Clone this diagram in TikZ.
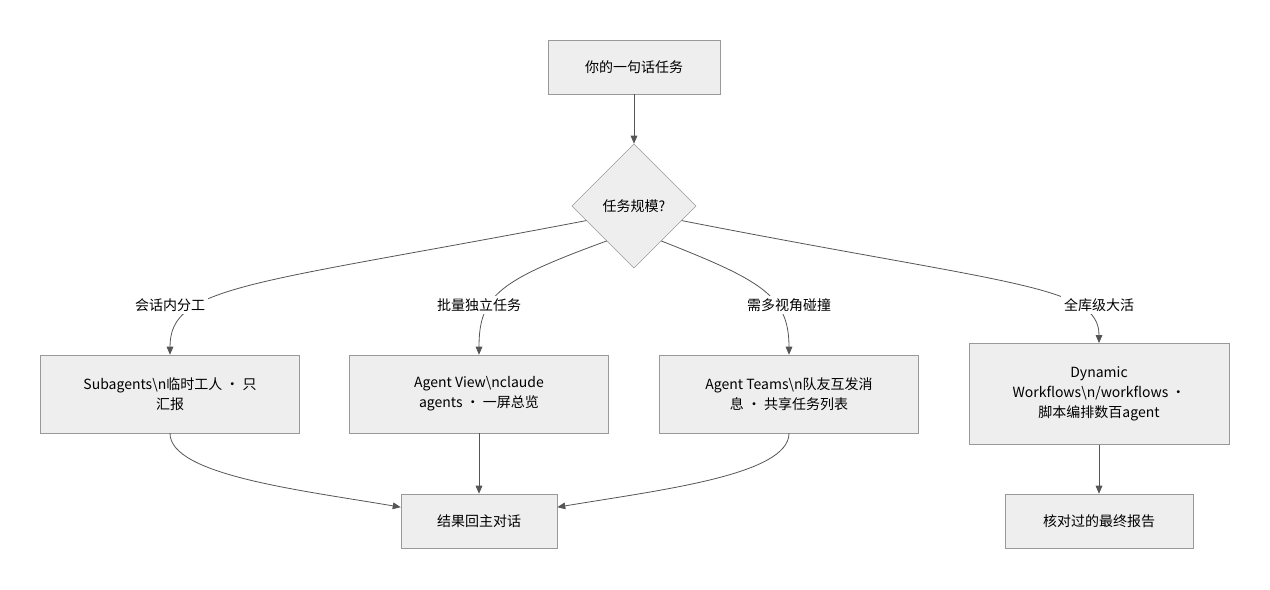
\documentclass[tikz,border=0pt]{standalone}
\usepackage{fontspec}
\setmainfont{Noto Sans CJK SC}
\usetikzlibrary{shapes.geometric, arrows.meta, positioning}
\definecolor{boxfill}{HTML}{EEEEEE}
\definecolor{boxline}{HTML}{999999}
\definecolor{edgecol}{HTML}{555555}

\begin{document}
\begin{tikzpicture}[
        x=0.75pt, y=-0.75pt,
        font=\fontsize{10.5}{15}\selectfont,
        box/.style={rectangle, draw=boxline, fill=boxfill, align=center, inner sep=0pt},
        dec/.style={diamond, draw=boxline, fill=boxfill, minimum width=93pt, minimum height=93pt, inner sep=0pt},
        lab/.style={fill=white, inner sep=2pt},
        arrow/.style={-{Triangle[length=6pt, width=5pt]}, edgecol, line width=0.6pt}
    ]
        \useasboundingbox (0,0) rectangle (1270,589);

        % Start and decision
        \node[box, minimum width=129pt, minimum height=40.5pt] (task) at (634,67) {你的一句话任务};
        \node[dec] (scale) at (634,206) {任务规模?};

        % Four branches
        \node[box, minimum width=194.5pt, minimum height=58.5pt] (sub) at (170,394) {Subagents\textbackslash n临时工人 · 只\\汇报};
        \node[box, minimum width=194.5pt, minimum height=58.5pt] (view) at (479,394) {Agent View\textbackslash nclaude\\agents · 一屏总览};
        \node[box, minimum width=194.5pt, minimum height=58.5pt] (teams) at (789,394) {Agent Teams\textbackslash n队友互发消\\息 · 共享任务列表};
        \node[box, minimum width=195pt, minimum height=76pt] (dyn) at (1099,394) {Dynamic\\Workflows\textbackslash n/workflows ·\\脚本编排数百agent};

        % Results
        \node[box, minimum width=117pt, minimum height=40.5pt] (result) at (479,521) {结果回主对话};
        \node[box, minimum width=141pt, minimum height=40.5pt] (report) at (1099,521) {核对过的最终报告};

        % Arrows
        \draw[arrow] (task) -- (scale);
        \draw[arrow] (scale.197) .. controls (250,285) and (170,285) .. (sub.north);
        \draw[arrow] (scale.232) .. controls (500,280) and (479,295) .. (view.north);
        \draw[arrow] (scale.308) .. controls (760,280) and (789,295) .. (teams.north);
        \draw[arrow] (scale.343) .. controls (1010,285) and (1099,285) .. (dyn.north);
        \draw[arrow] (sub.south) .. controls (170,475) and (300,490) .. (result.170);
        \draw[arrow] (view) -- (result);
        \draw[arrow] (teams.south) .. controls (789,475) and (660,490) .. (result.10);
        \draw[arrow] (dyn) -- (report);

        % Edge labels
        \node[lab] (l1) at (170,305) {会话内分工};
        \node[lab] (l2) at (479,305) {批量独立任务};
        \node[lab] (l3) at (789,305) {需多视角碰撞};
        \node[lab] (l4) at (1099,305) {全库级大活};
    \end{tikzpicture}
\end{document}
